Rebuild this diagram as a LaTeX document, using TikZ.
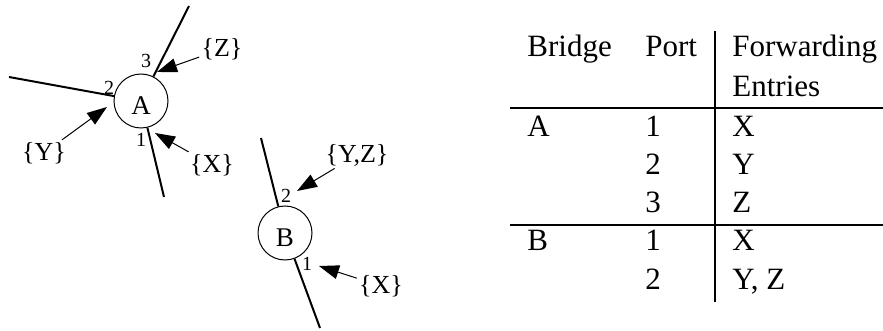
\documentclass[tikz,border=0pt]{standalone}
\usepackage{fontspec}
\setmainfont{Liberation Serif}
\usetikzlibrary{arrows.meta,positioning}

\begin{document}
\begin{tikzpicture}[
    x=0.5pt, y=-0.5pt,
    bridge/.style={draw, circle, line width=0.5pt, minimum size=27pt, inner sep=0pt,
        text height=13.9pt, text depth=0pt, font=\fontsize{13.5}{15}\selectfont},
    link/.style={line width=1pt},
    port/.style={font=\fontsize{10}{11}\selectfont, inner sep=0pt},
    addr/.style={font=\fontsize{13}{15}\selectfont, inner sep=1pt},
    learn/.style={line width=0.5pt, -{Triangle[length=10pt,width=7pt]}},
    cell/.style={font=\fontsize{15.5}{18}\selectfont, inner sep=0pt, anchor=base west},
    digit/.style={font=\fontsize{15.5}{18}\selectfont, inner sep=0pt, anchor=base},
    rule/.style={line width=1pt}
]
    \useasboundingbox (0,0) rectangle (883,331);

    % Bridges
    \node[bridge] (A) at (141,101) {A};
    \node[bridge] (B) at (285,233) {B};

    % LAN segments
    \coordinate (a1) at (164,197);
    \coordinate (a2) at (9,77);
    \coordinate (a3) at (189,6);
    \coordinate (b1) at (320,328);
    \coordinate (b2) at (261,138);
    \draw[link] (A) -- (a1);
    \draw[link] (A) -- (a2);
    \draw[link] (A) -- (a3);
    \draw[link] (B) -- (b1);
    \draw[link] (B) -- (b2);

    % Port numbers
    \node[port] (pa1) at (141,140) {1};
    \node[port] (pa2) at (109,88) {2};
    \node[port] (pa3) at (146,61) {3};
    \node[port] (pb1) at (307,264) {1};
    \node[port] (pb2) at (286,196) {2};

    % Learned addresses
    \node[addr] (xa) at (212,165) {\{X\}};
    \node[addr] (ya) at (44,153) {\{Y\}};
    \node[addr] (za) at (222,49) {\{Z\}};
    \node[addr] (yzb) at (357,155) {\{Y,Z\}};
    \node[addr] (xb) at (381,286) {\{X\}};
    \coordinate (ta1) at (155,133);
    \coordinate (ta2) at (107,107);
    \coordinate (ta3) at (157,72);
    \coordinate (tb1) at (319,266);
    \coordinate (tb2) at (297,191);
    \draw[learn] (xa) -- (ta1);
    \draw[learn] (ya) -- (ta2);
    \draw[learn] (za) -- (ta3);
    \draw[learn] (xb) -- (tb1);
    \draw[learn] (yzb) -- (tb2);

    % Table
    \node[cell] (hbridge) at (527,57) {Bridge};
    \node[cell] (hport) at (645,57) {Port};
    \node[cell] (hfwd) at (732,57) {Forwarding};
    \node[cell] (hent) at (732,97) {Entries};
    \node[cell] (rA) at (527,137) {A};
    \node[digit] (rA1) at (653,137) {1};
    \node[cell] (eA1) at (732,137) {X};
    \node[digit] (rA2) at (653,175) {2};
    \node[cell] (eA2) at (732,175) {Y};
    \node[digit] (rA3) at (653,213) {3};
    \node[cell] (eA3) at (732,213) {Z};
    \node[cell] (rB) at (527,250) {B};
    \node[digit] (rB1) at (653,250) {1};
    \node[cell] (eB1) at (732,250) {X};
    \node[digit] (rB2) at (653,290) {2};
    \node[cell] (eB2) at (732,290) {Y, Z};

    % Rules
    \coordinate (vtop) at (715,31);
    \coordinate (vbot) at (715,302);
    \coordinate (h1l) at (510,108);
    \coordinate (h1r) at (883,108);
    \coordinate (h2l) at (510,225);
    \coordinate (h2r) at (883,225);
    \draw[rule] (vtop) -- (vbot);
    \draw[rule] (h1l) -- (h1r);
    \draw[rule] (h2l) -- (h2r);
\end{tikzpicture}
\end{document}
